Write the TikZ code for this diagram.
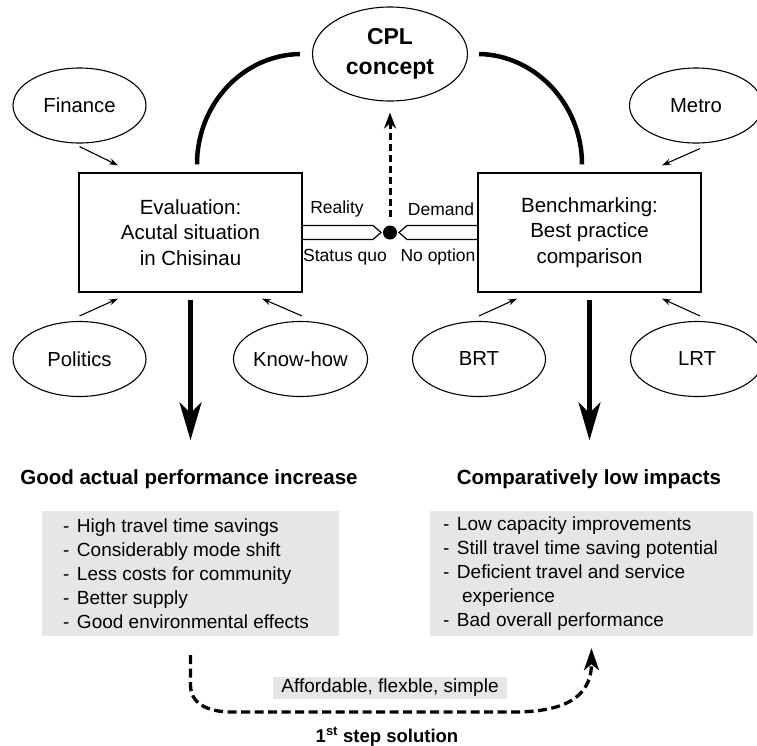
\documentclass[tikz,border=0pt]{standalone}
\usepackage{fontspec}
\setmainfont{Liberation Sans}
\usetikzlibrary{shapes.geometric,arrows.meta,calc}
\definecolor{panel}{RGB}{230,230,230}
\newcommand\itm[1]{\makebox[14pt][l]{-}#1}
\begin{document}
\begin{tikzpicture}[x=1pt,y=-1pt,
  oval/.style={ellipse, draw, line width=1.1pt, minimum width=133pt, minimum height=75pt, inner sep=0pt, font=\fontsize{20.3}{24}\selectfont},
  mainbox/.style={rectangle, draw, line width=1.3pt, minimum width=223pt, minimum height=119pt, align=center, font=\fontsize{20.5}{25.5}\selectfont},
  feed/.style={line width=1.1pt, -{Stealth[length=9pt,width=6pt]}},
  bigarrow/.style={line width=4.5pt, -{Stealth[length=38pt,width=22pt,inset=11pt]}},
  arcline/.style={line width=4.5pt},
  hollow/.style={line width=1.2pt, line join=miter},
  lab/.style={font=\fontsize{17.5}{20}\selectfont, inner sep=0pt},
  head/.style={font=\bfseries\fontsize{20.5}{24}\selectfont, inner sep=0pt},
  listbg/.style={rectangle, fill=panel, inner sep=0pt, minimum height=125pt},
  listtext/.style={align=left, inner sep=0pt, font=\fontsize{19}{24}\selectfont},
  dasharr/.style={line width=3pt, dash pattern=on 7pt off 4pt, -{Stealth[length=16pt,width=12pt]}},
  dashcurve/.style={line width=3.3pt, dash pattern=on 9pt off 4.5pt, -{Stealth[length=22pt,width=15pt,inset=6pt]}}
]
\useasboundingbox (0,0) rectangle (757,745);

% ellipses
\node[oval, minimum width=155pt, minimum height=94pt, font=\bfseries\fontsize{23}{30}\selectfont, align=center] (cpl) at (390,54) {CPL\\concept};
\node[oval] (fin) at (79.5,105.5) {Finance};
\node[oval] (met) at (696,105.5) {Metro};
\node[oval] (pol) at (79.5,359) {Politics};
\node[oval] (kh) at (300.5,359) {Know-how};
\node[oval] (brt) at (479,359) {BRT};
\node[oval] (lrt) at (697,359) {LRT};

% main boxes
\node[mainbox] (eval) at (190.5,232.5) {Evaluation:\\Acutal situation\\in Chisinau};
\node[mainbox] (bench) at (589.5,232.5) {Benchmarking:\\Best practice\\comparison};

% feeding arrows
\draw[feed] ([yshift=-3pt]fin.south) -- ([xshift=-72.5pt,yshift=7pt]eval.north);
\draw[feed] ([xshift=4pt,yshift=-5pt]met.south) -- ([xshift=72.5pt,yshift=7pt]bench.north);
\draw[feed] ([yshift=5pt]pol.north) -- ([xshift=-72.5pt,yshift=-6pt]eval.south);
\draw[feed] ([xshift=1.5pt,yshift=5pt]kh.north) -- ([xshift=71.5pt,yshift=-6pt]eval.south);
\draw[feed] ([yshift=5pt]brt.north) -- ([xshift=-72.5pt,yshift=-6pt]bench.south);
\draw[feed] ([xshift=3pt,yshift=5pt]lrt.north) -- ([xshift=72.5pt,yshift=-6pt]bench.south);

% arcs to CPL
\draw[arcline] ([xshift=6.5pt,yshift=8pt]eval.north) .. controls (197,104) and (243,55) .. ([xshift=-12pt]cpl.west);
\draw[arcline] ([xshift=-7.5pt,yshift=8pt]bench.north) .. controls (582,104) and (535,55) .. ([xshift=11pt]cpl.east);

% dot and hollow arrows
\node[circle, fill, minimum size=14pt, inner sep=0pt] (dot) at (390,232.5) {};
\draw[hollow] ([yshift=7pt]eval.east) -- ([xshift=-17pt,yshift=7pt]dot.center) -- ([xshift=-9pt]dot.center) -- ([xshift=-17pt,yshift=-7pt]dot.center) -- ([yshift=-7pt]eval.east);
\draw[hollow] ([yshift=7pt]bench.west) -- ([xshift=17pt,yshift=7pt]dot.center) -- ([xshift=9pt]dot.center) -- ([xshift=17pt,yshift=-7pt]dot.center) -- ([yshift=-7pt]bench.west);
\node[lab] (re) at (337,209) {Reality};
\node[lab] (sq) at (345,257) {Status quo};
\node[lab] (de) at (441,209) {Demand};
\node[lab] (no) at (438,257) {No option};
\draw[dasharr] ([yshift=8.5pt]dot.north) -- ([yshift=-11pt]cpl.south);

% headings
\node[head] (h1) at (189,479) {Good actual performance increase};
\node[head] (h2) at (589,479) {Comparatively low impacts};
\draw[bigarrow] ([yshift=-7pt]eval.south) -- ([yshift=29pt]h1.north -| eval.south);
\draw[bigarrow] ([yshift=-7pt]bench.south) -- ([yshift=29pt]h2.north -| bench.south);

% lists
\node[listbg, minimum width=297pt] (l1) at (190.5,573.5) {};
\node[listbg, minimum width=323pt] (l2) at (591.5,573.5) {};
\node[listtext, anchor=west] (t1) at ([xshift=21pt]l1.west) {\itm{High travel time savings}\\\itm{Considerably mode shift}\\\itm{Less costs for community}\\\itm{Better supply}\\\itm{Good environmental effects}};
\node[listtext, anchor=west] (t2) at ([xshift=13pt]l2.west) {\itm{Low capacity improvements}\\\itm{Still travel time saving potential}\\\itm{Deficient travel and service}\\\hspace*{19pt}experience\\\itm{Bad overall performance}};

% bottom solution arrow
\node[fill=panel, inner xsep=8pt, inner ysep=2.5pt, font=\fontsize{19}{22}\selectfont] (aff) at (390,688) {Affordable, flexble, simple};
\draw[dashcurve] ([yshift=-19pt]l1.south) -- (190.5,685) .. controls (190.5,702) and (205,712) .. (232,712) -- (513,712) .. controls (560,712) and (591.5,700) .. ([yshift=-12pt]l2.south);
\node[font=\bfseries\fontsize{18.5}{22}\selectfont, inner sep=0pt, anchor=base] (sol) at (387,742) {1\textsuperscript{st} step solution};
\end{tikzpicture}
\end{document}
